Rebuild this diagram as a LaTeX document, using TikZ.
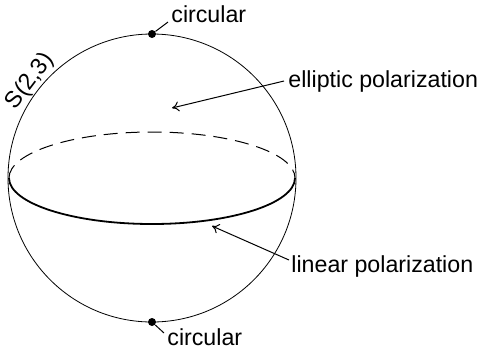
\documentclass[tikz,border=0pt]{standalone}
\usepackage{fontspec}
\setmainfont{Liberation Sans}
\usetikzlibrary{arrows.meta,positioning,calc}

\begin{document}
\begin{tikzpicture}[x=0.5pt,y=-0.5pt,
    lbl/.style={font=\fontsize{11.6}{13}\selectfont, inner sep=1pt},
    pole/.style={circle, fill, inner sep=0pt, minimum size=4pt},
    lead/.style={line width=0.5pt},
    tip/.style={-{To[length=3.5pt,width=5pt]}}]
    \useasboundingbox (0,0) rectangle (482,349);

    % sphere
    \coordinate (c) at (152,178);
    \draw[line width=0.4pt] (c) circle [radius=144];

    % equator: back half dashed, front half solid
    \draw[line width=0.5pt, dash pattern=on 7pt off 4pt]
        (9,178) arc [start angle=180, end angle=360, x radius=143, y radius=46];
    \draw[line width=0.9pt]
        (9,178) arc [start angle=180, end angle=0, x radius=143, y radius=46];

    % poles
    \node[pole] (ntop) at (152,34) {};
    \node[pole] (nbot) at (152,322) {};

    % labels
    \node[lbl, anchor=base west] (ctop) at (169,22) {circular};
    \node[lbl, anchor=base west] (cbot) at (165,345) {circular};
    \node[lbl, anchor=base, rotate=53] (sname) at (35,85) {S(2,3)};
    \node[lbl, anchor=base west] (ell) at (286,87) {elliptic polarization};
    \node[lbl, anchor=base west] (lin) at (289,272) {linear polarization};

    % arrow tips
    \coordinate (elltip) at (172,108);
    \coordinate (lintip) at (212,226);

    % connectors
    \draw[lead] (ntop) -- ($(ctop.base west)+(-1,0)$);
    \draw[lead] (nbot) -- ($(cbot.base west)+(-1,-12)$);
    \draw[lead, tip] ($(ell.west)+(-2,0)$) -- (elltip);
    \draw[lead, tip] ($(lin.west)+(0,-6)$) -- (lintip);
\end{tikzpicture}
\end{document}
